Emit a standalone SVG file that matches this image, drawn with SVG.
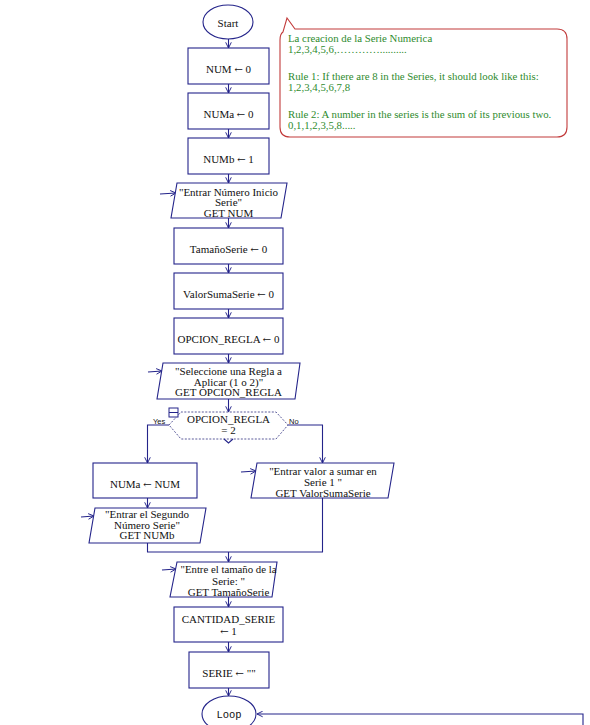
<svg xmlns="http://www.w3.org/2000/svg" width="590" height="725" viewBox="0 0 590 725">
<defs>
<marker id="arr" viewBox="0 0 8 8" refX="7.5" refY="4" markerWidth="7" markerHeight="7" markerUnits="userSpaceOnUse" orient="auto">
<path d="M1,0.8 L7.5,4 L1,7.2" fill="none" stroke="#24248a" stroke-width="1.1"/>
</marker>
<style>
.s{fill:#fff;stroke:#24248a;stroke-width:1.1}
.c{fill:none;stroke:#24248a;stroke-width:1.1}
.ca{fill:none;stroke:#24248a;stroke-width:1.1;marker-end:url(#arr)}
.t{font-family:"Liberation Serif","Times New Roman",serif;font-size:11px;fill:#111;text-anchor:middle}
.a{font-family:"DejaVu Serif","Liberation Serif",serif;font-size:10px}
.m{font-family:"Liberation Mono","Courier New",monospace;font-size:10.5px;fill:#111;text-anchor:middle}
.l{font-family:"Liberation Sans",Arial,sans-serif;font-size:7.5px;fill:#111}
.g{font-family:"Liberation Serif","Times New Roman",serif;font-size:10.8px;fill:#2e8b2e}
.d{fill:#fff;stroke:#5a5a9a;stroke-width:1;stroke-dasharray:2,1.5}
</style>
</defs>
<rect width="590" height="725" fill="#fff"/>

<g id="connectors">
<line class="ca" x1="228.5" y1="39" x2="228.5" y2="48"/>
<line class="ca" x1="228.5" y1="84" x2="228.5" y2="93"/>
<line class="ca" x1="228.5" y1="129" x2="228.5" y2="138"/>
<line class="ca" x1="228.5" y1="174" x2="228.5" y2="183"/>
<line class="ca" x1="228.5" y1="218" x2="228.5" y2="228"/>
<line class="ca" x1="228.5" y1="264" x2="228.5" y2="273"/>
<line class="ca" x1="228.5" y1="309" x2="228.5" y2="318"/>
<line class="ca" x1="228.5" y1="354" x2="228.5" y2="363"/>
<line class="ca" x1="228.5" y1="399" x2="228.5" y2="412"/>
<polyline class="ca" points="169,425 147.5,425 147.5,463"/>
<polyline class="ca" points="288,425 322.5,425 322.5,463"/>
<line class="ca" x1="147.5" y1="498" x2="147.5" y2="508"/>
<polyline class="c" points="147.5,543 147.5,552 322.5,552 322.5,498"/>
<line class="ca" x1="228.5" y1="552" x2="228.5" y2="562"/>
<line class="ca" x1="228.5" y1="597" x2="228.5" y2="607"/>
<line class="ca" x1="228.5" y1="642" x2="228.5" y2="652"/>
<line class="ca" x1="228.5" y1="688" x2="228.5" y2="696"/>
<polyline class="ca" points="583,730 583,714 257,714"/>
<line class="ca" x1="160" y1="194" x2="176" y2="193"/>
<line class="ca" x1="148" y1="372" x2="162" y2="371"/>
<line class="ca" x1="81" y1="517" x2="94" y2="516"/>
<line class="ca" x1="241" y1="472" x2="256" y2="471"/>
<line class="ca" x1="162" y1="570" x2="176" y2="569"/>
<text class="l" x="153" y="424">Yes</text>
<text class="l" x="289" y="424">No</text>
</g>

<g id="start">
<ellipse class="s" cx="228" cy="22" rx="25" ry="17"/>
<text class="t" x="228" y="27">Start</text>
</g>

<g id="num">
<rect class="s" x="188" y="48" width="81" height="36"/>
<text class="t" x="228.5" y="73">NUM <tspan class="a">←</tspan> 0</text>
</g>

<g id="numa">
<rect class="s" x="188" y="93" width="81" height="36"/>
<text class="t" x="228.5" y="118">NUMa <tspan class="a">←</tspan> 0</text>
</g>

<g id="numb">
<rect class="s" x="188" y="138" width="81" height="36"/>
<text class="t" x="228.5" y="163">NUMb <tspan class="a">←</tspan> 1</text>
</g>

<g id="in-num">
<polygon class="s" points="177,183 287,183 281,218 171,218"/>
<text class="t" x="228.5" y="195.5">"Entrar Número Inicio</text>
<text class="t" x="228.5" y="206">Serie"</text>
<text class="t" x="228.5" y="216.5">GET NUM</text>
</g>

<g id="tamano">
<rect class="s" x="174" y="228" width="109" height="36"/>
<text class="t" x="228.5" y="253">TamañoSerie <tspan class="a">←</tspan> 0</text>
</g>

<g id="valor">
<rect class="s" x="174" y="273" width="109" height="36"/>
<text class="t" x="228.5" y="298">ValorSumaSerie <tspan class="a">←</tspan> 0</text>
</g>

<g id="opcion">
<rect class="s" x="174" y="318" width="109" height="36"/>
<text class="t" x="228.5" y="343">OPCION_REGLA <tspan class="a">←</tspan> 0</text>
</g>

<g id="in-opcion">
<polygon class="s" points="163,363 300,363 295,399 157,399"/>
<text class="t" x="228.5" y="375">"Seleccione una Regla a</text>
<text class="t" x="228.5" y="385.5">Aplicar (1 o 2)"</text>
<text class="t" x="228.5" y="396">GET OPCION_REGLA</text>
</g>

<g id="decision">
<polygon class="d" points="169,425 181,412 276,412 288,425 276,439 181,439"/>
<polyline class="c" points="224,439 228.5,443 233,439"/>
<rect x="169" y="408" width="9" height="9" fill="#fff" stroke="#24248a" stroke-width="1"/>
<line x1="169" y1="412.5" x2="178" y2="412.5" stroke="#24248a" stroke-width="1"/>
<text class="t" x="228.5" y="423">OPCION_REGLA</text>
<text class="t" x="228.5" y="434">= 2</text>
</g>

<g id="numa-num">
<rect class="s" x="93" y="463" width="104" height="35"/>
<text class="t" x="145" y="488">NUMa <tspan class="a">←</tspan> NUM</text>
</g>

<g id="in-numb">
<polygon class="s" points="95,508 206,508 200,543 89,543"/>
<text class="t" x="147" y="518">"Entrar el Segundo</text>
<text class="t" x="147" y="528.5">Número Serie"</text>
<text class="t" x="147" y="539">GET NUMb</text>
</g>

<g id="in-valor">
<polygon class="s" points="257,463 394,463 388,498 251,498"/>
<text class="t" x="323" y="475">"Entrar valor a sumar en</text>
<text class="t" x="323" y="486">Serie 1 "</text>
<text class="t" x="323" y="497">GET ValorSumaSerie</text>
</g>

<g id="in-tamano">
<polygon class="s" points="177,562 277,562 272,597 170,597"/>
<text class="t" x="228.5" y="573" textLength="96" lengthAdjust="spacingAndGlyphs">"Entre el tamaño de la</text>
<text class="t" x="228.5" y="584.5">Serie: "</text>
<text class="t" x="228.5" y="596">GET TamañoSerie</text>
</g>

<g id="cantidad">
<rect class="s" x="174" y="607" width="109" height="35"/>
<text class="t" x="228.5" y="623">CANTIDAD_SERIE</text>
<text class="t" x="228.5" y="635"><tspan class="a">←</tspan> 1</text>
</g>

<g id="serie">
<rect class="s" x="189" y="652" width="80" height="36"/>
<text class="t" x="229" y="677">SERIE <tspan class="a">←</tspan> ""</text>
</g>

<g id="loop">
<ellipse class="s" cx="229" cy="714" rx="27" ry="18"/>
<text class="m" x="229" y="718">Loop</text>
</g>

<g id="comment">
<path d="M295,29 L557,29 Q567,29 567,39 L567,127 Q567,137 557,137 L290,137 Q280,137 280,127 L280,40 Q280,34 283,32 L287,18 Z" fill="#fff" stroke="#c23b3b" stroke-width="1.1"/>
<text class="g" x="288" y="41.5">La creacion de la Serie Numerica</text>
<text class="g" x="288" y="52.5">1,2,3,4,5,6,…………..........</text>
<text class="g" x="288" y="80">Rule 1: If there are 8 in the Series, it should look like this:</text>
<text class="g" x="288" y="91">1,2,3,4,5,6,7,8</text>
<text class="g" x="288" y="118">Rule 2: A number in the series is the sum of its previous two.</text>
<text class="g" x="288" y="129">0,1,1,2,3,5,8.....</text>
</g>
</svg>
